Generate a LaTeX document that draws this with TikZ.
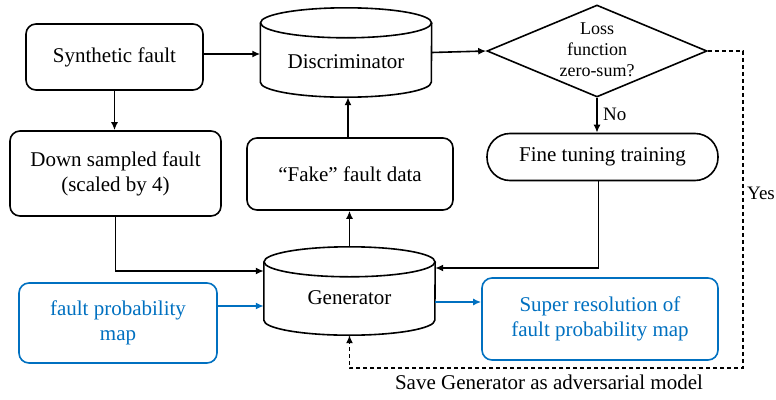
\documentclass[tikz,border=0pt]{standalone}
\usepackage{fontspec}
\setmainfont{Liberation Serif}
\newfontfamily\tnr{Liberation Serif}
\usetikzlibrary{arrows.meta,shapes.geometric}
\definecolor{mblue}{RGB}{0,112,192}
\tikzset{
  box/.style={draw, line width=1.6pt, rounded corners=10pt, align=center, inner sep=0pt,
    font=\tnr\fontsize{21}{25}\selectfont},
  bbox/.style={box, draw=mblue, text=mblue},
  cyl/.style={draw=none, inner sep=0pt, font=\tnr\fontsize{21}{25}\selectfont},
  conn/.style={line width=1.6pt, -{Latex[length=8pt,width=7pt]}},
  bconn/.style={conn, draw=mblue, -{Latex[length=8pt,width=7pt,color=mblue]}},
  dconn/.style={conn, dash pattern=on 4pt off 3pt},
  lab/.style={font=\tnr\fontsize{19}{22}\selectfont, inner sep=0pt},
}
\newcommand{\mycyl}[1]{%
  \draw[line width=1.6pt] ([yshift=-15pt]#1.north) ellipse [x radius=85.5pt, y radius=15pt];
  \draw[line width=1.6pt] ([yshift=-15pt]#1.north west) -- ([yshift=15pt]#1.south west)
    arc[start angle=180, end angle=360, x radius=85.5pt, y radius=15pt]
    -- ([yshift=-15pt]#1.north east);
}
\begin{document}
\begin{tikzpicture}[x=1pt,y=-1pt]
\useasboundingbox (0,0) rectangle (776,399);
% boxes
\node[box, minimum width=177pt, minimum height=66pt] (syn) at (114.5,57) {Synthetic fault};
\node[box, minimum width=211pt, minimum height=85pt] (down) at (115.5,173.5) {Down sampled fault\\(scaled by 4)};
\node[box, minimum width=206pt, minimum height=72pt] (fake) at (350,174) {“Fake” fault data};
\node[cyl, minimum width=171pt, minimum height=89pt,
  label={[cyl, yshift=-9pt]center:Discriminator}] (disc) at (346,52.5) {};
\node[cyl, minimum width=171pt, minimum height=88pt,
  label={[cyl, yshift=-7pt]center:Generator}] (gen) at (349.5,291) {};
\node[diamond, draw, line width=1.6pt, minimum width=220pt, minimum height=92pt, aspect=2.39,
  inner sep=0pt,
  label={[inner sep=0pt, align=center, font=\tnr\fontsize{18}{21}\selectfont, yshift=1pt]center:Loss\\function\\zero-sum?}]
  (dia) at (597,51) {};
\node[box, rounded corners=23pt, minimum width=231pt, minimum height=47pt] (fine) at (602.5,157) {Fine tuning training};
\node[bbox, minimum width=198pt, minimum height=80pt] (fpm) at (118,323) {fault probability\\map};
\node[bbox, minimum width=236pt, minimum height=82pt] (sup) at (600,319) {Super resolution of\\fault probability map};
\mycyl{disc}
\mycyl{gen}
% labels
\node[lab, anchor=west] (no) at (603,114) {No};
\node[lab, anchor=west] (yes) at (747,193) {Yes};
\node[lab, font=\tnr\fontsize{21}{25}\selectfont] (save) at (549,382) {Save Generator as adversarial model};
% helper coordinates
\coordinate (c1) at (743,368);
\coordinate (sa) at ([yshift=3pt]syn.east);
\coordinate (fa) at ([xshift=-2pt]fake.north);
\coordinate (ft) at ([xshift=-4pt]fine.south);
\coordinate (ge) at ([yshift=23pt]gen.east);
\coordinate (gw) at ([yshift=20pt]gen.west);
\coordinate (pa) at ([yshift=17pt]fpm.east);
\coordinate (gb) at ([yshift=-11pt]gen.east);
% connectors
\draw[conn] (sa) -- (disc.west |- sa);
\draw[conn] (syn.south) -- (syn.south |- down.north);
\draw[conn] (disc.east) -- (dia.west);
\draw[conn] (fa) -- (fa |- disc.south);
\draw[conn] (gen.north) -- (gen.north |- fake.south);
\draw[conn] (dia.south) -- (dia.south |- fine.north);
\draw[conn] (ft) |- (ge);
\draw[conn] (down.south) |- (gw);
\draw[bconn] (pa) -- (gen.west |- pa);
\draw[bconn] (gb) -- (sup.west |- gb);
\draw[dconn] (dia.east) -| (c1) -| (gen.south);
\end{tikzpicture}
\end{document}
